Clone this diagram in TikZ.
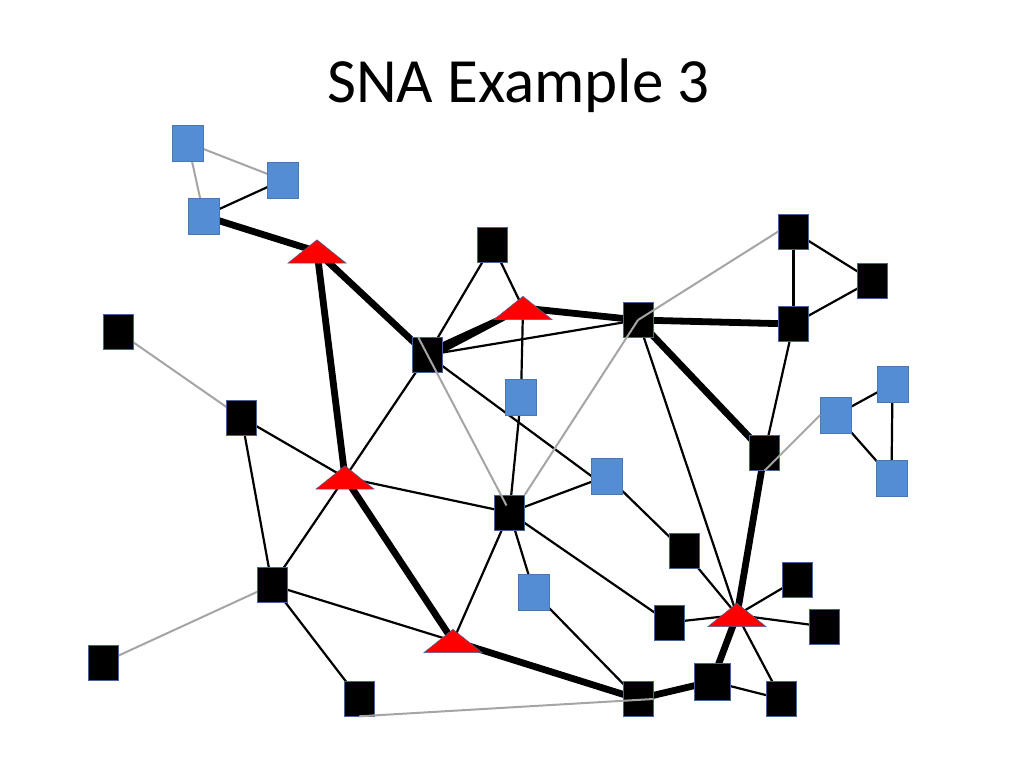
\documentclass[tikz,border=0pt]{standalone}
\usepackage{fontspec}
\setmainfont{Carlito}
\usetikzlibrary{backgrounds,calc}
\definecolor{nodeblue}{RGB}{84,141,212}
\definecolor{edgegray}{RGB}{165,165,165}
\definecolor{rim}{RGB}{70,100,150}
\begin{document}
\begin{tikzpicture}[x=1pt,y=-1pt,
  blk/.style={draw=rim, line width=0.6pt, fill=black, minimum width=30, minimum height=35, inner sep=0pt},
  blu/.style={draw=nodeblue!85!black, line width=0.4pt, fill=nodeblue, minimum width=31, minimum height=36, inner sep=0pt},
  tri/.style={minimum width=58, minimum height=23, inner sep=0pt},
  e/.style={line width=2.2pt, black},
  g/.style={line width=2pt, edgegray},
  w/.style={line width=6.8pt, black},
  title/.style={font=\fontsize{63}{76}\selectfont, anchor=base, inner sep=0pt}
]
\useasboundingbox (0,0) rectangle (1024,768);

\node[title] (ttl) at (518.5,102) {SNA Example 3};

% blue squares
\node[blu] (B1) at (188,143) {};
\node[blu] (B2) at (283,180) {};
\node[blu] (B3) at (204,216) {};
\node[blu] (B4) at (521,397) {};
\node[blu] (B5) at (836,415) {};
\node[blu] (B6) at (892.5,384) {};
\node[blu] (B7) at (891.5,478) {};
\node[blu] (B8) at (607,476) {};
\node[blu] (B9) at (534,592.5) {};

% black squares
\node[blk] (K1) at (118.5,332) {};
\node[blk] (K2) at (241.5,417.5) {};
\node[blk] (K3) at (492.5,245) {};
\node[blk] (K4) at (427.5,355) {};
\node[blk] (K5) at (638,320) {};
\node[blk] (K6) at (793.5,231.5) {};
\node[blk] (K7) at (872,280.5) {};
\node[blk] (K8) at (793.5,324) {};
\node[blk] (K9) at (764.5,453) {};
\node[blk] (K10) at (509.5,512.5) {};
\node[blk] (K11) at (638,699) {};
\node[blk] (K12) at (684,551) {};
\node[blk] (K13) at (669,622.5) {};
\node[blk] (K14) at (797,579.5) {};
\node[blk] (K15) at (824,626.5) {};
\node[blk, minimum width=36, minimum height=37] (K16) at (712,681.5) {};
\node[blk] (K17) at (781.5,699) {};
\node[blk] (K18) at (272,585) {};
\node[blk] (K19) at (103.5,662.5) {};
\node[blk] (K20) at (359,698.5) {};

% triangle placeholders
\node[tri] (T1) at (317,251.5) {};
\node[tri] (T2) at (345,477.5) {};
\node[tri] (T3) at (523,308) {};
\node[tri] (T4) at (453,641) {};
\node[tri] (T5) at (737,615) {};

\begin{pgfonlayer}{background}
  \fill[white] (0,0) rectangle (1024,768);
  % gray ties
  \foreach \a/\b in {B1/B2, B1/B3, K1/K2, K18/K19}
    \draw[g] (\a.center) -- (\b.center);
  % thin black ties
  \foreach \a/\b in {B3/B2, K2/T2, K2/K18, T2/K4, T2/K10, T2/K18, K4/K3, K3/T3,
      K4/K5, T3/B4, K5/T5, K6/K7, K6/K8, K8/K7, K8/K9, B5/B6, B6/B7,
      B5/B7, B4/K10, K10/B8, K10/T4, K10/B9, K10/K13, B8/K12, K12/T5, K13/T5,
      T5/K14, T5/K15, T5/K17, K16/K17, B9/K11, K18/T4, K18/K20}
    \draw[e] (\a.center) -- (\b.center);
  \draw[e] (K4.center) -- (B8.west);
  % heavy ties
  \foreach \a/\b in {B3/T1, T1/T2, T1/K4, T3/K5, K5/K8, K5/K9, K9/T5,
      T5/K16, K16/K11, T4/K11, T2/T4}
    \draw[w] (\a.center) -- (\b.center);
  % tapering heavy tie K4 -- T3
  \fill[black] ($(K4.center)!5.5pt!90:(T3.center)$) -- ($(K4.center)!5.5pt!-90:(T3.center)$)
    -- ($(T3.center)!2.5pt!90:(K4.center)$) -- ($(T3.center)!2.5pt!-90:(K4.center)$) -- cycle;
\end{pgfonlayer}

% triangles
\foreach \t in {T1,T2,T3,T4,T5}
  \filldraw[fill=red, draw=rim, line width=0.5pt]
    (\t.south west) -- (\t.north) -- (\t.south east) -- cycle;

% gray ties drawn across nodes
\draw[g] ([xshift=6pt]K4.north west) -- ([xshift=-3pt,yshift=7pt]K10.center);
\draw[g] (K6.west) -- (K5.center);
\draw[g] (K5.center) -- (K10.north east);
\draw[g] (B5.west) -- (K9.south);
\draw[g] (K20.south) -- (K11.east);
\end{tikzpicture}
\end{document}
